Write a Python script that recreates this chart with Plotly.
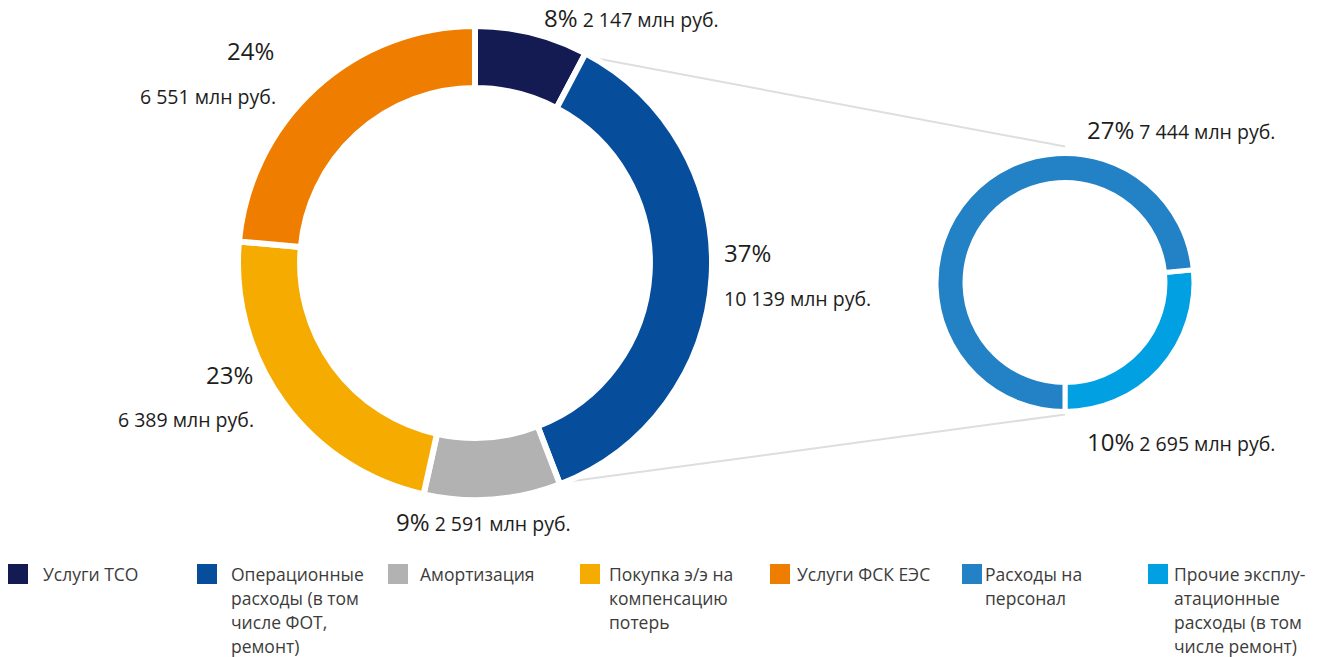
import math
import plotly.graph_objects as go

# ---- data ----
main_categories = ["Услуги ТСО", "Операционные\nрасходы (в том\nчисле ФОТ,\nремонт)", "Амортизация",
                   "Покупка э/э на\nкомпенсацию\nпотерь", "Услуги ФСК ЕЭС"]
main_values = [2147, 10139, 2591, 6389, 6551]
main_pct = ["8%", "37%", "9%", "23%", "24%"]
main_colors = ["#141a52", "#064e9c", "#b2b2b2", "#f6ab00", "#ee7d00"]

sub_categories = ["Расходы на\nперсонал", "Прочие эксплу-\nатационные\nрасходы (в том\nчисле ремонт)"]
sub_values = [7444, 2695]
sub_pct = ["27%", "10%"]
sub_colors = ["#2381c5", "#00a0e3"]

W, H = 1326, 657
FONT = "'Open Sans', Roboto, sans-serif"
TXT = "#1d1d1b"


def fmt(v):
    return f"{v:,}".replace(",", " ") + " млн руб."


def px(x):
    return x / W


def py(y):
    return 1 - y / H


# geometry (pixels)
BIG_C = (475, 263)
BIG_R = 237
SMALL_C = (1065, 282.5)
SMALL_R = 129

fig = go.Figure()

fig.add_trace(go.Pie(
    labels=[c.replace("\n", " ") for c in main_categories],
    values=main_values,
    sort=False, direction="clockwise", rotation=0,
    hole=0.738,
    marker=dict(colors=main_colors, line=dict(color="white", width=6)),
    textinfo="none", hoverinfo="label+value+percent",
    domain=dict(x=[px(BIG_C[0] - BIG_R), px(BIG_C[0] + BIG_R)],
                y=[py(BIG_C[1] + BIG_R), py(BIG_C[1] - BIG_R)]),
    showlegend=False,
))

sub_rot = 180 - sub_values[1] / sum(sub_values) * 360
fig.add_trace(go.Pie(
    labels=[c.replace("\n", " ") for c in sub_categories[::-1]],
    values=sub_values[::-1],
    sort=False, direction="clockwise", rotation=sub_rot,
    hole=0.775,
    marker=dict(colors=sub_colors[::-1], line=dict(color="white", width=5)),
    textinfo="none", hoverinfo="label+value+percent",
    domain=dict(x=[px(SMALL_C[0] - SMALL_R), px(SMALL_C[0] + SMALL_R)],
                y=[py(SMALL_C[1] + SMALL_R), py(SMALL_C[1] - SMALL_R)]),
    showlegend=False,
))

# ---- connector lines from the operational slice to the breakdown donut ----
tot = sum(main_values)
a1 = main_values[0] / tot * 360
a2 = (main_values[0] + main_values[1]) / tot * 360


def polar(c, r, ang):
    return c[0] + r * math.sin(math.radians(ang)), c[1] - r * math.cos(math.radians(ang))


p1 = polar(BIG_C, 236, a1 + 1.5)
p2 = polar(BIG_C, 236, a2 - 0.5)
shapes = [
    dict(type="line", xref="paper", yref="paper", x0=px(p1[0]), y0=py(p1[1]),
         x1=px(SMALL_C[0]), y1=py(SMALL_C[1] - SMALL_R - 7), line=dict(color="#dedede", width=2), layer="below"),
    dict(type="line", xref="paper", yref="paper", x0=px(p2[0]), y0=py(p2[1]),
         x1=px(SMALL_C[0]), y1=py(SMALL_C[1] + SMALL_R + 3), line=dict(color="#dedede", width=2), layer="below"),
]

annotations = []


def ann(text, x, y, size, xanchor="left"):
    annotations.append(dict(text=text, x=px(x), y=py(y), xref="paper", yref="paper",
                            xanchor=xanchor, yanchor="middle", showarrow=False,
                            font=dict(family=FONT, size=size, color=TXT)))


PCT_SIZE = 24
AMT_SIZE = 19.5


def inline(pct, val):
    return f"<span style='font-size:{PCT_SIZE}px'>{pct}</span> {fmt(val)}"


# main donut labels
ann(inline(main_pct[0], main_values[0]), 542, 17, AMT_SIZE)
ann(main_pct[1], 722, 252, PCT_SIZE)
ann(fmt(main_values[1]), 722, 298, AMT_SIZE)
ann(inline(main_pct[2], main_values[2]), 394, 521, AMT_SIZE)
ann(main_pct[3], 255, 374, PCT_SIZE, "right")
ann(fmt(main_values[3]), 256, 419, AMT_SIZE, "right")
ann(main_pct[4], 276, 51, PCT_SIZE, "right")
ann(fmt(main_values[4]), 278, 96, AMT_SIZE, "right")
# breakdown labels
ann(inline(sub_pct[0], sub_values[0]), 1085, 129, AMT_SIZE)
ann(inline(sub_pct[1], sub_values[1]), 1085, 441, AMT_SIZE)

# ---- custom legend ----
legend_items = list(zip(main_categories, main_colors)) + list(zip(sub_categories, sub_colors))
sq_x = [8, 197, 388, 580, 770, 962, 1148]
txt_x = [41, 229, 418, 607, 795, 983, 1172]
for (name, col), sx, tx in zip(legend_items, sq_x, txt_x):
    shapes.append(dict(type="rect", xref="paper", yref="paper",
                       x0=px(sx), x1=px(sx + 20), y0=py(584), y1=py(564),
                       fillcolor=col, line=dict(width=0)))
    for i, line in enumerate(name.split("\n")):
        annotations.append(dict(text=line, x=px(tx), y=py(574 + 24 * i), xref="paper", yref="paper",
                                xanchor="left", yanchor="middle", showarrow=False,
                                font=dict(family=FONT, size=17.5, color="#3c3c3b")))

fig.update_layout(
    width=W, height=H,
    margin=dict(l=0, r=0, t=0, b=0),
    paper_bgcolor="white", plot_bgcolor="white",
    shapes=shapes, annotations=annotations,
    font=dict(family=FONT),
)

fig.write_html("out.html", config=dict(displayModeBar=False),
               post_script="document.body.style.margin='0';")
